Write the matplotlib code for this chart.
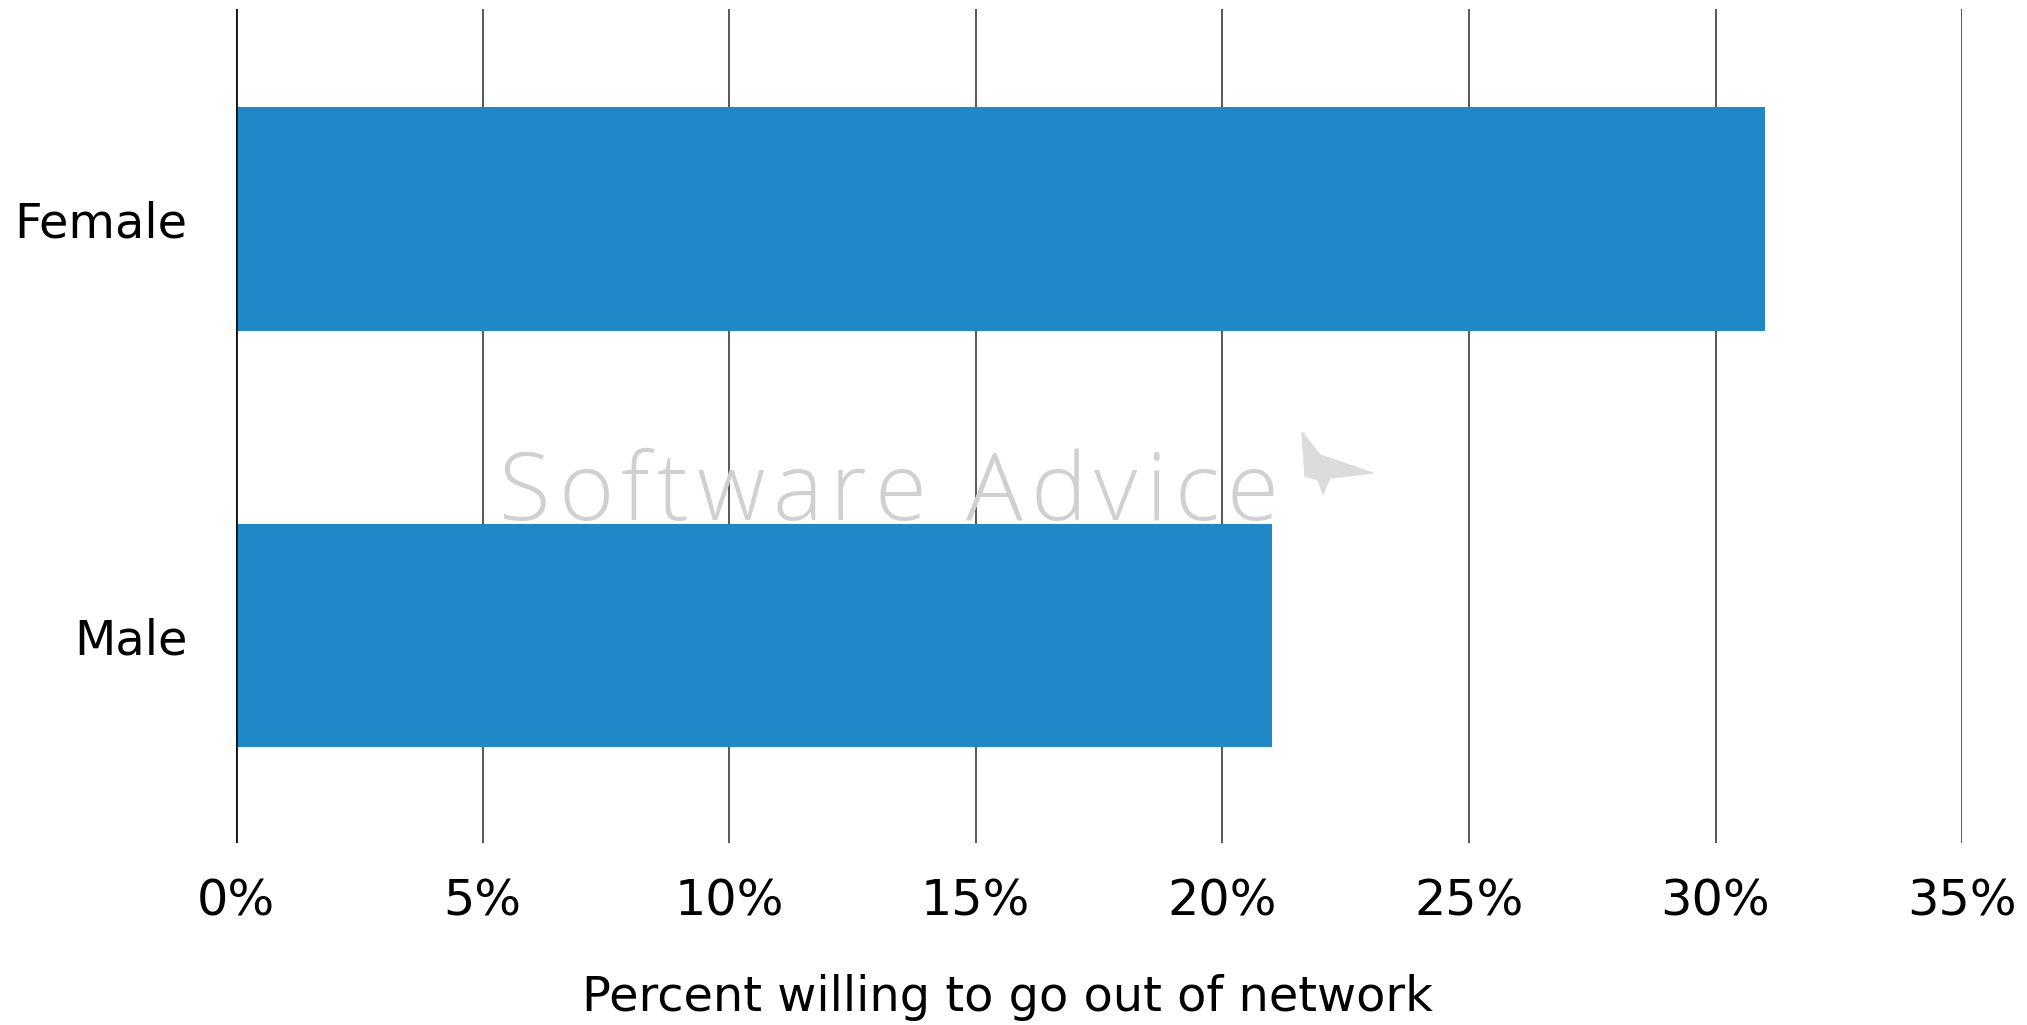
import matplotlib.pyplot as plt
from matplotlib.font_manager import FontProperties
from matplotlib.ticker import FuncFormatter

categories = ['Male', 'Female']
values = [21, 31]
xticks = [0, 5, 10, 15, 20, 25, 30, 35]

BAR_COLOR = '#1f88c7'
W, H = 2027, 1025

plt.rcParams['font.family'] = ['DejaVu Sans']

fig = plt.figure(figsize=(W / 100, H / 100), dpi=100)
ax = fig.add_axes([0.1164, 0.1776, 0.8516, 0.8136])

ax.barh(range(len(categories)), values, height=0.537, color=BAR_COLOR, zorder=3)

ax.set_xlim(0, 35)
ax.set_ylim(-0.498, 1.505)
ax.set_xticks(xticks)
ax.xaxis.set_major_formatter(FuncFormatter(lambda x, _: f'{int(x)}%'))
ax.set_yticks(range(len(categories)))
ax.set_yticklabels(categories)

# vertical gridlines only, the zero line drawn a bit heavier
ax.grid(axis='x', color='#4a4a4a', linewidth=1.3, zorder=1)
ax.axvline(0, color='#111111', linewidth=2, zorder=4)
for side in ['top', 'right', 'bottom', 'left']:
    ax.spines[side].set_visible(False)
ax.set_facecolor('none')

ax.tick_params(axis='x', length=0, pad=25, labelsize=35.5)
ax.tick_params(axis='y', length=0, pad=35, labelsize=34.5)

# axis title is centred on the whole figure
fig.text(0.497, 0.004, 'Percent willing to go out of network', fontsize=34.5,
         ha='center', va='bottom')

# faint watermark behind the gridlines and bars, letters spread out by hand
wm_font = FontProperties(family='Open Sans', weight='light', size=68)
renderer = fig.canvas.get_renderer()
x = 499
for ch in 'Software Advice':
    w, _, _ = renderer.get_text_width_height_descent(ch, wm_font, ismath=False)
    if ch == ' ':
        w = wm_font.get_size_in_points() * 0.26 * 100 / 72
    fig.text(x / W, 1 - 520 / H, ch, fontproperties=wm_font, color='#d0d0d0',
             ha='left', va='baseline', zorder=0)
    x += w + 7.6

logo = [(1302, 432), (1320, 455), (1373, 473), (1330, 478), (1323, 494),
        (1318, 480), (1305, 476)]
fig.patches.append(plt.Polygon([(px / W, 1 - py / H) for px, py in logo], closed=True,
                               transform=fig.transFigure, color='#dcdcdc', zorder=0))

fig.savefig('out.png', dpi=100)
